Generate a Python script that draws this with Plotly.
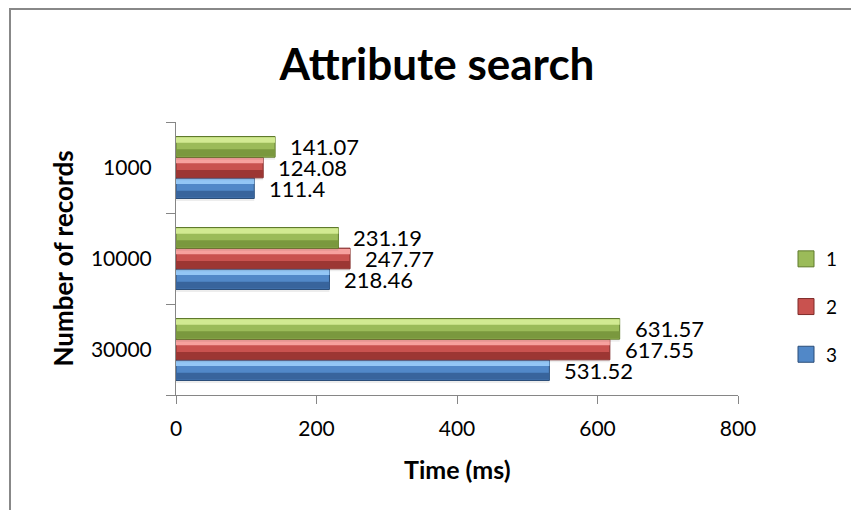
import plotly.graph_objects as go

# ---- data -------------------------------------------------------------
categories = ["1000", "10000", "30000"]          # top to bottom
series_names = ["1", "2", "3"]
values_1 = [141.07, 231.19, 631.57]
values_2 = [124.08, 247.77, 617.55]
values_3 = [111.4, 218.46, 531.52]
x_ticks = [0, 200, 400, 600, 800]

series_values = {"1": values_1, "2": values_2, "3": values_3}

# ---- styling ----------------------------------------------------------
palette = {
    "1": dict(main="#9bbb59", light="#d2ea92", dark="#7a983e", edge="#5f7a2c"),
    "2": dict(main="#c9524f", light="#f7a19e", dark="#9c3633", edge="#7e2a28"),
    "3": dict(main="#5188c8", light="#93c6f5", dark="#38649c", edge="#2b4d78"),
}
FONT = "Lato, 'Open Sans', sans-serif"
W, H = 851, 510
ML, MR, MT, MB = 176, 113, 122, 115
PW, PH = W - ML - MR, H - MT - MB

cat_order = categories[::-1]                      # bottom to top on the axis
bar_w = 0.227
stack_order = ["3", "2", "1"]                     # bottom to top inside a group

fig = go.Figure()

for k, name in enumerate(stack_order):
    vals = series_values[name]
    col = palette[name]
    off = -1.5 * bar_w + k * bar_w
    # soft shadow under the bar
    fig.add_trace(go.Bar(
        y=categories, x=vals, orientation="h", width=bar_w * 0.18,
        offset=off - bar_w * 0.12, marker=dict(color="rgba(0,0,0,0.07)", line=dict(width=0)),
        showlegend=False, hoverinfo="skip"))
    # bar body
    fig.add_trace(go.Bar(
        y=categories, x=vals, orientation="h", width=bar_w, offset=off,
        marker=dict(color=col["main"], line=dict(color=col["edge"], width=1)),
        showlegend=False, name=name))
    # lower darker bevel
    fig.add_trace(go.Bar(
        y=categories, x=vals, orientation="h", width=bar_w * 0.34, offset=off + bar_w * 0.04,
        marker=dict(color=col["dark"], line=dict(width=0)),
        showlegend=False, hoverinfo="skip"))
    # upper highlight bevel
    fig.add_trace(go.Bar(
        y=categories, x=vals, orientation="h", width=bar_w * 0.26, offset=off + bar_w * 0.70,
        marker=dict(color=col["light"], line=dict(width=0)),
        showlegend=False, hoverinfo="skip"))

    # value labels to the right of every bar
    for cat, v in zip(categories, vals):
        fig.add_annotation(
            x=v, y=cat_order.index(cat) + off + bar_w / 2, xref="x", yref="y",
            text=f"{v:g}", showarrow=False, xanchor="left", yanchor="middle",
            xshift=14, borderpad=0, font=dict(family=FONT, size=22, color="#000"))

# legend entries
for name in series_names:
    col = palette[name]
    fig.add_trace(go.Scatter(
        x=[None], y=[None], mode="markers", name=name, legendgroup=name,
        marker=dict(symbol="square", size=16, color=col["main"],
                    line=dict(color=col["edge"], width=1))))

fig.update_layout(
    width=W, height=H,
    margin=dict(l=ML, r=MR, t=MT, b=MB),
    paper_bgcolor="white", plot_bgcolor="white",
    barmode="overlay",
    font=dict(family=FONT, size=20, color="#000"),
    title=dict(text="<b>Attribute search</b>", x=437 / W, xref="container",
               y=1 - 65 / H, yref="container", xanchor="center", yanchor="middle",
               font=dict(family=FONT, size=44, color="#000")),
    xaxis=dict(range=[0, 800], tickvals=x_ticks, showgrid=False, zeroline=False,
               showline=True, linecolor="#868686", linewidth=1,
               ticks="outside", ticklen=8, tickcolor="#868686",
               ticklabelstandoff=7, tickfont=dict(family=FONT, size=21)),
    yaxis=dict(type="category", categoryorder="array", categoryarray=cat_order,
               range=[-0.5, 2.5], showgrid=False, zeroline=False,
               showline=True, linecolor="#868686", linewidth=1,
               ticks="outside", ticklen=9, tickcolor="#868686", tickson="boundaries",
               ticklabelstandoff=19, tickfont=dict(family=FONT, size=21)),
    legend=dict(x=786 / W, xref="container", y=1 - 240 / H, yref="container",
                xanchor="left", yanchor="top", traceorder="grouped",
                tracegroupgap=20, font=dict(family=FONT, size=19),
                bgcolor="rgba(0,0,0,0)"),
)

# axis titles
fig.add_annotation(text="<b>Number of records</b>", textangle=-90, showarrow=False,
                   xref="paper", yref="paper", x=(62 - ML) / PW, y=0.5,
                   xanchor="center", yanchor="middle",
                   font=dict(family=FONT, size=26, color="#000"))
fig.add_annotation(text="<b>Time (ms)</b>", showarrow=False,
                   xref="paper", yref="paper", x=0.5, y=-(469 - (H - MB)) / PH,
                   xanchor="center", yanchor="middle",
                   font=dict(family=FONT, size=25, color="#000"))

# chart-area frame (runs off the right and bottom edges)
fig.add_shape(type="rect", xref="paper", yref="paper", layer="below",
              x0=(10 - ML) / PW, x1=(W + 20 - ML) / PW,
              y0=-(H + 20 - (H - MB)) / PH, y1=((H - MB) - 9) / PH,
              line=dict(color="#888888", width=2), fillcolor="rgba(0,0,0,0)")

fig.write_html("out.html")
